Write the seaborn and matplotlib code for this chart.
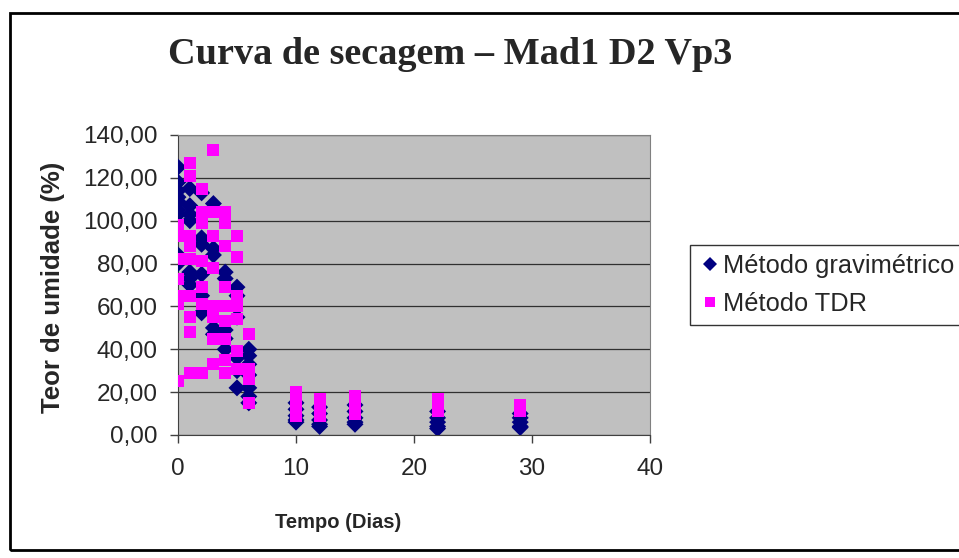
import pandas as pd
import matplotlib.pyplot as plt
import seaborn as sns
from matplotlib.patches import Rectangle
from matplotlib.ticker import FuncFormatter

# Dias de secagem e teor de umidade (%)
grav_dias = [0] * 9 + [1] * 7 + [2] * 6 + [3] * 5 + [4] * 5 + [5] * 6 + [6] * 7 \
    + [10] * 5 + [12] * 5 + [15] * 5 + [22] * 5 + [29] * 5
grav_teor = [125, 118, 114, 111, 109, 105, 103, 84, 80,
             115, 107, 103, 100, 76, 73, 70,
             113, 92, 89, 75, 65, 57,
             108, 87, 84, 50, 47,
             76, 73, 49, 45, 40,
             69, 65, 55, 36, 30, 22,
             40, 37, 33, 28, 22, 18, 15,
             15, 12, 9, 7, 6,
             13, 10, 7, 5, 4,
             14, 11, 8, 6, 5,
             11, 8, 6, 4, 3,
             10, 8, 6, 4, 3.5]

tdr_dias = [0] * 7 + [1] * 9 + [2] * 7 + [3] * 8 + [4] * 9 + [5] * 7 + [6] * 4 \
    + [10] * 7 + [12] * 5 + [15] * 5 + [22] * 4 + [29] * 3
tdr_teor = [98, 93, 82, 73, 65, 61, 25,
            127, 121, 93, 88, 82, 65, 55, 48, 29,
            115, 104, 99, 81, 69, 61, 29,
            133, 104, 93, 78, 60, 55, 45, 33,
            104, 99, 88, 69, 60, 53, 45, 35, 29,
            93, 83, 65, 60, 54, 39, 31,
            47, 31, 26, 15,
            20, 18, 16, 14, 12, 10, 9,
            17, 15, 13, 11, 9,
            18, 16, 14, 12, 10,
            17, 15, 13, 11,
            14, 12, 11]

series = ["Método gravimétrico", "Método TDR"]

df = pd.concat([
    pd.DataFrame({"Tempo": grav_dias, "Teor": grav_teor, "Método": series[0]}),
    pd.DataFrame({"Tempo": tdr_dias, "Teor": tdr_teor, "Método": series[1]}),
], ignore_index=True)

sns.set_style("white")
plt.rcParams["font.family"] = ["Liberation Sans", "DejaVu Sans"]

fig = plt.figure(figsize=(9.59, 5.58), dpi=100)
ax = fig.add_axes([178 / 959, 1 - 435 / 558, 472 / 959, 300 / 558])
ax.set_facecolor("#C0C0C0")

sns.scatterplot(data=df, x="Tempo", y="Teor", hue="Método", style="Método",
                palette={series[0]: "#000080", series[1]: "#FF00FF"},
                markers={series[0]: "D", series[1]: "s"},
                s=75, linewidth=0, ax=ax, zorder=3)

ax.set_xlim(0, 40)
ax.set_ylim(0, 140)
ax.set_xticks(range(0, 41, 10))
ax.set_yticks(range(0, 141, 20))
ax.yaxis.set_major_formatter(FuncFormatter(lambda v, p: f"{v:.2f}".replace(".", ",")))
ax.grid(axis="y", color="#303030", linewidth=0.9)
ax.set_axisbelow(True)
ax.tick_params(labelsize=17.5, direction="out", length=5.5, width=1, color="#404040",
               bottom=True, left=True)
ax.tick_params(axis="y", pad=9)
ax.tick_params(axis="x", pad=11)
for side in ["left", "bottom"]:
    ax.spines[side].set_color("#404040")
for side in ["top", "right"]:
    ax.spines[side].set_color("#808080")

ax.set_xlabel("Tempo (Dias)", fontsize=14.5, fontweight="bold", va="center")
ax.set_ylabel("Teor de umidade (%)", fontsize=18.5, fontweight="bold", va="center")
ax.xaxis.set_label_coords((338 - 178) / 472, -0.29)
ax.yaxis.set_label_coords((53 - 178) / 472, (435 - 287) / 300)

fig.text(450 / 959, 1 - 64 / 558, "Curva de secagem – Mad1 D2 Vp3",
         family="Liberation Serif", fontsize=27.5, fontweight="bold",
         ha="center", va="baseline")

handles, labels = ax.get_legend_handles_labels()
leg = ax.legend(handles, labels, loc="center left",
                bbox_to_anchor=(690 / 959, 1 - 285 / 558),
                bbox_transform=fig.transFigure, fontsize=18.3, frameon=True,
                fancybox=False, edgecolor="black", handletextpad=0.05,
                handlelength=0.9, borderpad=0.35, labelspacing=0.55,
                borderaxespad=0, markerscale=0.8)
leg.get_frame().set_linewidth(1.0)

fig.patches.append(Rectangle((10 / 959, 8 / 558), 1.0, 1 - 21 / 558,
                             transform=fig.transFigure, fill=False,
                             edgecolor="black", linewidth=2))

plt.savefig("out.png", dpi=100)
